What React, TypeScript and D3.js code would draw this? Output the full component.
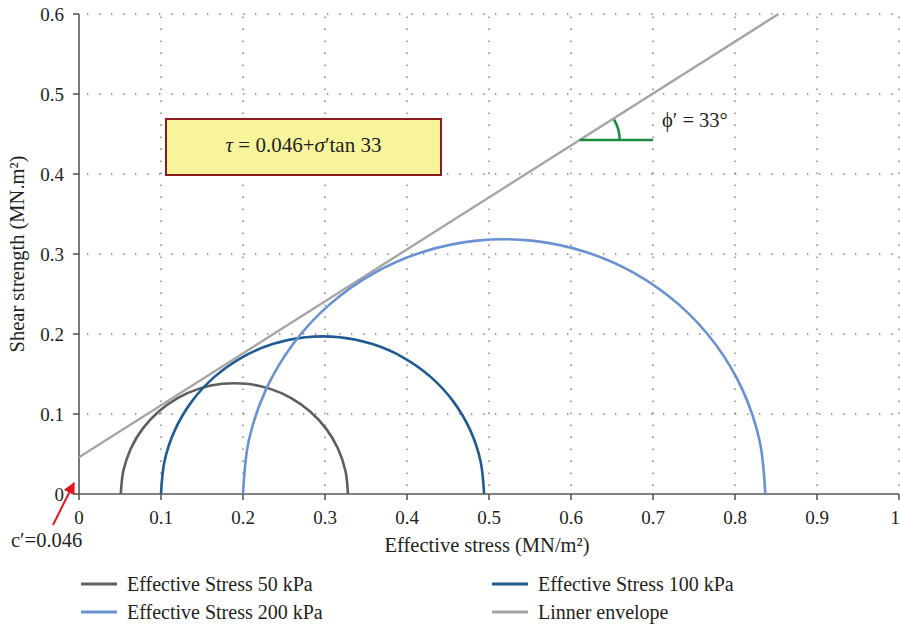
import React from "react";
import * as d3 from "d3";

// Mohr circles: minor / major principal effective stresses (MN/m²)
const seriesNames = ["Effective Stress 50 kPa", "Effective Stress 100 kPa", "Effective Stress 200 kPa"];
const sigma3 = [0.051, 0.1, 0.2];
const sigma1 = [0.328, 0.494, 0.837];
const seriesColors = ["#5e5e5e", "#1f5a92", "#6a92d2"];

// Mohr–Coulomb envelope
const cohesion = 0.046;
const frictionDeg = 33;
const envelopeEnd = 0.853;
const envelopeColor = "#a5a5a5";
const envelopeName = "Linner envelope";

// Friction-angle marker
const markerTau = 0.4425;
const markerEndSigma = 0.7;

const xTicks = [0, 0.1, 0.2, 0.3, 0.4, 0.5, 0.6, 0.7, 0.8, 0.9, 1];
const xTickLabels = ["0", "0.1", "0.2", "0.3", "0.4", "0.5", "0.6", "0.7", "0.8", "0.9", "1"];
const yTicks = [0, 0.1, 0.2, 0.3, 0.4, 0.5, 0.6];
const yTickLabels = ["0", "0.1", "0.2", "0.3", "0.4", "0.5", "0.6"];

const FONT = '"Liberation Serif", "Times New Roman", "DejaVu Serif", serif';
const AXIS = "#595959";
const GRID = "#7a7a7a";
const TEXT = "#231f20";

export default function App() {
  const x = d3.scaleLinear().domain([0, 1]).range([79, 899]);
  const y = d3.scaleLinear().domain([0, 0.6]).range([494, 14]);
  const tanPhi = Math.tan((frictionDeg * Math.PI) / 180);

  const line = d3
    .line<[number, number]>()
    .x((d) => x(d[0]))
    .y((d) => y(d[1]))
    .curve(d3.curveCatmullRom);

  // sample each circle's upper half at 12° steps (as a plotted series)
  const circlePath = (s3: number, s1: number) => {
    const c = (s1 + s3) / 2;
    const r = (s1 - s3) / 2;
    const pts: [number, number][] = d3
      .range(0, 181, 12)
      .map((a) => [c - r * Math.cos((a * Math.PI) / 180), r * Math.sin((a * Math.PI) / 180)]);
    return line(pts) || "";
  };

  const envPath =
    d3
      .line<[number, number]>()
      .x((d) => x(d[0]))
      .y((d) => y(d[1]))([
      [0, cohesion],
      [envelopeEnd, cohesion + envelopeEnd * tanPhi],
    ]) || "";

  // angle marker geometry (angle measured in screen space)
  const mSigma = (markerTau - cohesion) / tanPhi;
  const mx = x(mSigma);
  const my = y(markerTau);
  const pxSlope = (tanPhi * (y(0) - y(0.1))) / (x(0.1) - x(0));
  const ang = Math.atan(pxSlope);
  const arcR = 40;
  const arc = d3.arc()({
    innerRadius: arcR,
    outerRadius: arcR,
    startAngle: Math.PI / 2 - ang + 0.03,
    endAngle: Math.PI / 2,
  } as any);

  const legend = [
    { name: seriesNames[0], color: seriesColors[0], col: 0, row: 0 },
    { name: seriesNames[1], color: seriesColors[1], col: 1, row: 0 },
    { name: seriesNames[2], color: seriesColors[2], col: 0, row: 1 },
    { name: envelopeName, color: envelopeColor, col: 1, row: 1 },
  ];
  const legX = [81, 492];
  const legY = [584, 612];

  return (
    <div style={{ position: "fixed", left: 0, top: 0 }}>
      <svg width={900} height={629} style={{ display: "block", background: "#fff", fontFamily: FONT }}>
        {/* grid */}
        <g stroke={GRID} strokeWidth={1.4} strokeDasharray="1.4 10.6" fill="none">
          {yTicks.slice(1).map((t) => (
            <line key={"gy" + t} x1={x(0) + 8} x2={x(1)} y1={y(t)} y2={y(t)} />
          ))}
          {xTicks.slice(1).map((t) => (
            <line key={"gx" + t} x1={x(t)} x2={x(t)} y1={y(0) - 8} y2={y(0.6)} />
          ))}
        </g>

        {/* axes */}
        <g stroke={AXIS} strokeWidth={1.6}>
          <line x1={x(0)} x2={x(0)} y1={y(0)} y2={y(0.6)} />
          <line x1={x(0)} x2={x(1)} y1={y(0)} y2={y(0)} />
          {yTicks.map((t) => (
            <line key={"ty" + t} x1={x(0) - 6} x2={x(0)} y1={y(t)} y2={y(t)} />
          ))}
          {xTicks.map((t) => (
            <line key={"tx" + t} x1={x(t)} x2={x(t)} y1={y(0)} y2={y(0) + 6} />
          ))}
        </g>

        {/* tick labels */}
        <g style={{ fontSize: 19, fontFamily: FONT }} fill={TEXT}>
          {yTicks.map((t, i) => (
            <text key={"ly" + t} x={x(0) - 15} y={y(t)} dy="0.35em" textAnchor="end">
              {yTickLabels[i]}
            </text>
          ))}
          {xTicks.map((t, i) => (
            <text
              key={"lx" + t}
              x={i === xTicks.length - 1 ? 900 : x(t)}
              y={524}
              textAnchor={i === xTicks.length - 1 ? "end" : "middle"}
            >
              {xTickLabels[i]}
            </text>
          ))}
        </g>

        {/* axis titles */}
        <text x={487} y={552} textAnchor="middle" style={{ fontSize: 20.5, fontFamily: FONT }} fill={TEXT}>
          Effective stress (MN/m²)
        </text>
        <text
          transform="translate(24,254) rotate(-90)"
          textAnchor="middle"
          style={{ fontSize: 20.5, fontFamily: FONT }}
          fill={TEXT}
        >
          Shear strength (MN.m²)
        </text>

        {/* envelope */}
        <path d={envPath} stroke={envelopeColor} strokeWidth={2.4} fill="none" />

        {/* Mohr circles */}
        {sigma3.map((s3, i) => (
          <path
            key={"c" + i}
            d={circlePath(s3, sigma1[i])}
            stroke={seriesColors[i]}
            strokeWidth={2.6}
            fill="none"
          />
        ))}

        {/* friction angle marker */}
        <g stroke="#1c8a3e" strokeWidth={2.6} fill="none">
          <line x1={mx} x2={x(markerEndSigma)} y1={my} y2={my} />
          <path d={arc || ""} transform={`translate(${mx},${my})`} />
        </g>
        <text x={662} y={127} style={{ fontSize: 20.5, fontFamily: FONT }} fill={TEXT}>
          ϕ′ = 33°
        </text>

        {/* equation box */}
        <rect x={166} y={119} width={275} height={56} fill="#f8f49c" stroke="#8a1a1e" strokeWidth={2} />
        <text x={303.5} y={152} textAnchor="middle" style={{ fontSize: 21, fontFamily: FONT }} fill={TEXT}>
          <tspan fontStyle="italic">τ</tspan>
          <tspan> = 0.046+</tspan>
          <tspan fontStyle="italic">σ</tspan>
          <tspan>′tan 33</tspan>
        </text>

        {/* cohesion annotation */}
        <defs>
          <marker id="redHead" viewBox="0 0 10 10" refX="9" refY="5" markerWidth="6" markerHeight="6" orient="auto">
            <path d="M0,0 L10,5 L0,10 z" fill="#e3161d" />
          </marker>
        </defs>
        <line x1={53} y1={525} x2={74} y2={483} stroke="#e3161d" strokeWidth={2} markerEnd="url(#redHead)" />
        <text x={11} y={547} style={{ fontSize: 20.5, fontFamily: FONT }} fill={TEXT}>
          c′=0.046
        </text>

        {/* legend */}
        {legend.map((l) => (
          <g key={l.name}>
            <line
              x1={legX[l.col]}
              x2={legX[l.col] + 36}
              y1={legY[l.row]}
              y2={legY[l.row]}
              stroke={l.color}
              strokeWidth={3}
            />
            <text
              x={legX[l.col] + 46}
              y={legY[l.row]}
              dy="0.33em"
              style={{ fontSize: 20, fontFamily: FONT }}
              fill={TEXT}
            >
              {l.name}
            </text>
          </g>
        ))}
      </svg>
    </div>
  );
}
